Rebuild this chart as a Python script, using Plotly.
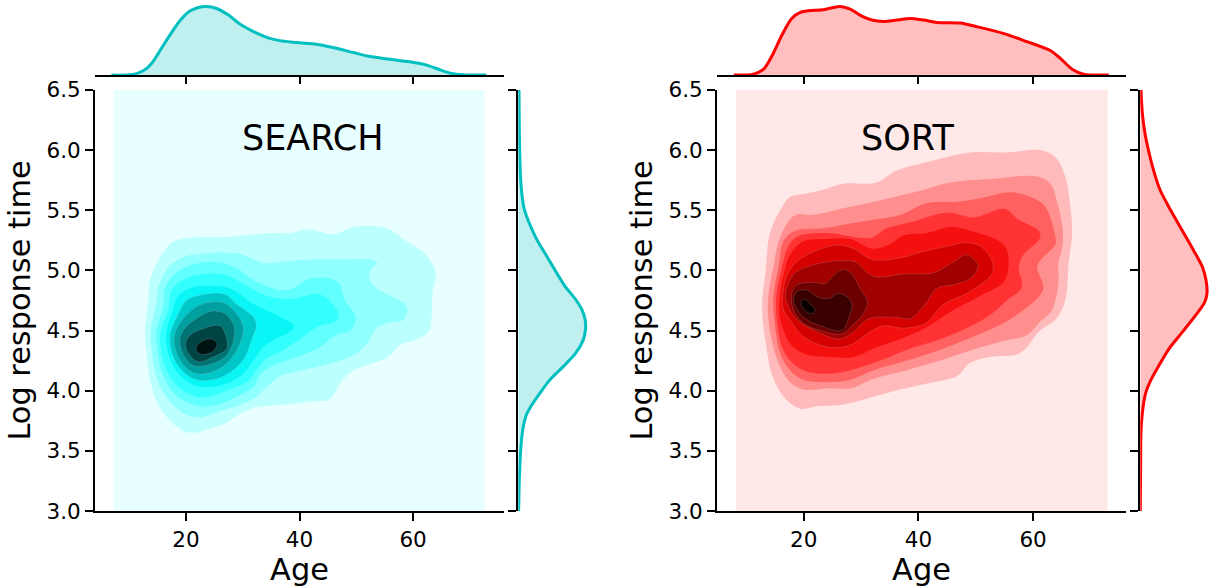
import plotly.graph_objects as go

W, H = 1211, 588

tick_ages = [20, 40, 60]
tick_logs = [3.0, 3.5, 4.0, 4.5, 5.0, 5.5, 6.0, 6.5]

search_colors = ["#bbffff", "#90ffff", "#62ffff", "#33ffff", "#0af5f5", "#00c8c8", "#00a0a0", "#007575", "#004545", "#001414"]
sort_colors = ["#ffbbbb", "#ff8f8f", "#ff6060", "#ff3333", "#f51010", "#d40000", "#a00000", "#6c0000", "#3a0000", "#0a0000"]
search_bg = "#e8ffff"
sort_bg = "#ffe8e8"

bg_search_age = [7.3, 72.6, 72.6, 7.3, 7.3]
bg_sort_age = [8.2, 73.0, 73.0, 8.2, 8.2]
bg_log = [3.0, 3.0, 6.5, 6.5, 3.0]

# SEARCH density bands (Age, Log response time), outermost first
search_age_1 = [12.8,13.4,13.7,15.7,17.8,20.7,27.7,34.8,38.3,40.7,43.0,45.9,49.5,52.4,55.9,58.9,61.8,63.5,64.0,63.4,63.3,62.7,60.3,57.7,55.6,53.0,49.5,47.1,45.4,41.8,38.3,33.6,30.7,28.3,26.6,23.1,20.7,18.7,16.3,14.5,13.5,13.1]
search_log_1 = [4.49,4.75,4.92,5.13,5.24,5.27,5.28,5.31,5.31,5.34,5.33,5.30,5.36,5.37,5.34,5.24,5.15,5.04,4.95,4.81,4.64,4.49,4.42,4.38,4.28,4.23,4.17,4.06,3.93,3.91,3.89,3.87,3.84,3.77,3.72,3.67,3.65,3.69,3.80,3.95,4.14,4.31]
search_age_2 = [13.8,14.8,15.1,16.9,19.5,23.1,26.6,30.1,32.4,34.8,38.3,43.0,47.7,52.4,53.7,52.7,52.3,53.6,55.9,58.6,59.0,58.3,55.3,53.6,51.8,50.0,47.1,44.2,39.5,36.5,34.2,32.4,28.9,26.0,22.5,20.1,17.8,15.7,14.5,14.0]
search_log_2 = [4.49,4.72,4.85,5.02,5.11,5.14,5.15,5.13,5.08,5.06,5.08,5.09,5.09,5.09,5.06,5.02,4.93,4.85,4.79,4.72,4.67,4.59,4.56,4.52,4.39,4.31,4.25,4.21,4.16,4.12,4.03,3.95,3.87,3.83,3.78,3.80,3.88,4.01,4.17,4.34]
search_age_3 = [14.8,16.0,16.3,17.8,20.7,25.4,28.9,31.9,35.4,38.3,41.2,44.2,46.8,48.0,49.9,48.9,46.2,43.6,40.7,37.7,35.1,33.0,31.9,28.9,26.0,22.5,19.5,17.2,15.7,15.0]
search_log_3 = [4.49,4.70,4.85,4.96,5.04,5.07,5.02,4.92,4.85,4.84,4.92,4.94,4.90,4.75,4.61,4.50,4.46,4.36,4.30,4.25,4.20,4.13,4.03,3.95,3.89,3.87,3.92,4.02,4.17,4.34]
search_age_4 = [15.5,16.9,17.5,19.8,23.1,27.2,30.7,34.8,38.3,41.2,43.6,45.4,46.9,46.2,43.6,41.8,39.5,36.5,34.2,32.4,30.7,27.7,24.8,21.9,18.9,16.9,15.7]
search_log_4 = [4.48,4.67,4.84,4.93,4.97,4.96,4.87,4.78,4.76,4.79,4.80,4.74,4.63,4.57,4.54,4.49,4.41,4.32,4.27,4.17,4.07,4.01,3.96,3.95,4.02,4.14,4.31]
search_age_5 = [16.5,17.5,18.7,21.3,25.4,28.3,31.9,36.0,39.0,38.3,35.4,33.6,31.9,30.1,27.7,24.2,21.3,18.7,17.2,16.6]
search_log_5 = [4.48,4.64,4.79,4.86,4.87,4.84,4.72,4.63,4.54,4.49,4.42,4.36,4.25,4.14,4.07,4.03,4.05,4.14,4.27,4.38]
search_age_6 = [17.2,18.7,20.1,23.1,26.9,28.9,31.9,32.4,31.6,30.4,28.3,25.4,21.9,19.5,17.8]
search_log_6 = [4.45,4.64,4.75,4.80,4.80,4.72,4.61,4.54,4.43,4.28,4.17,4.10,4.09,4.16,4.28]
search_age_7 = [17.9,18.9,21.3,23.6,26.6,28.9,30.1,29.5,27.7,25.4,21.9,19.8,18.5]
search_log_7 = [4.43,4.56,4.68,4.73,4.73,4.64,4.53,4.39,4.25,4.17,4.14,4.20,4.30]
search_age_8 = [18.9,19.8,21.9,24.5,26.9,28.5,28.2,26.9,23.6,21.3,19.8]
search_log_8 = [4.42,4.52,4.60,4.66,4.64,4.53,4.39,4.28,4.21,4.21,4.28]
search_age_9 = [19.9,20.7,23.3,26.0,27.0,27.2,24.8,22.2,20.6]
search_log_9 = [4.38,4.46,4.52,4.54,4.46,4.35,4.28,4.24,4.30]
search_age_10 = [21.8,22.8,24.5,25.5,24.8,23.1,22.0]
search_log_10 = [4.36,4.41,4.43,4.39,4.33,4.30,4.32]

# SORT density bands, outermost first
sort_age_1 = [12.8,13.3,14.1,15.9,17.6,20.5,23.4,26.9,32.7,36.2,41.5,49.0,55.4,61.2,63.9,65.6,66.5,66.8,66.2,65.6,63.9,61.2,58.9,57.2,52.5,49.0,46.7,41.5,36.8,32.2,26.3,22.3,19.4,16.5,14.4,13.4,12.8]
sort_log_1 = [4.78,4.97,5.31,5.50,5.61,5.64,5.67,5.72,5.73,5.83,5.90,5.98,5.98,6.00,5.94,5.78,5.53,5.31,5.06,4.75,4.59,4.50,4.36,4.30,4.28,4.23,4.12,4.06,4.01,3.95,3.88,3.87,3.85,3.95,4.14,4.39,4.61]
sort_age_2 = [13.8,14.7,15.9,18.5,21.4,26.3,32.2,40.9,45.5,52.5,60.7,63.0,64.4,65.2,65.0,64.4,64.4,63.3,61.2,58.9,55.4,50.8,43.8,38.0,32.2,28.1,24.6,19.9,17.6,15.6,14.4,13.8]
sort_log_2 = [4.78,5.03,5.28,5.46,5.46,5.51,5.57,5.67,5.73,5.76,5.78,5.72,5.53,5.31,5.17,5.06,4.89,4.67,4.57,4.46,4.42,4.36,4.25,4.17,4.10,4.02,4.02,4.01,4.07,4.23,4.42,4.61]
sort_age_3 = [14.7,15.6,16.5,18.5,23.4,26.9,32.2,36.8,41.5,46.7,50.8,56.0,60.1,62.1,63.9,63.9,61.2,60.7,61.8,61.0,58.3,54.8,49.6,43.8,38.0,32.2,28.1,24.0,19.9,17.6,15.9,15.0]
sort_log_3 = [4.78,5.03,5.25,5.33,5.35,5.38,5.42,5.46,5.56,5.57,5.60,5.65,5.60,5.53,5.28,5.22,5.08,5.03,4.86,4.78,4.67,4.56,4.45,4.34,4.25,4.17,4.09,4.07,4.09,4.17,4.31,4.53]
sort_age_4 = [15.2,16.2,17.3,18.8,24.0,31.6,34.5,38.6,45.0,49.6,55.1,57.2,61.0,61.2,58.3,57.5,58.0,55.4,51.9,45.0,38.0,33.3,28.1,24.0,19.9,17.6,16.2,15.3]
sort_log_4 = [4.78,5.03,5.20,5.28,5.31,5.27,5.35,5.40,5.48,5.44,5.51,5.43,5.33,5.27,5.13,5.03,4.86,4.75,4.61,4.45,4.34,4.25,4.17,4.14,4.17,4.25,4.36,4.59]
sort_age_5 = [15.8,16.5,17.6,19.9,24.0,28.1,31.9,35.1,37.4,41.5,45.5,49.0,55.1,55.1,50.8,46.1,41.5,38.0,32.7,28.7,24.6,19.9,17.6,16.5,15.8]
sort_log_5 = [4.78,4.97,5.13,5.24,5.26,5.26,5.18,5.22,5.29,5.31,5.36,5.33,5.20,4.92,4.79,4.67,4.53,4.45,4.36,4.28,4.28,4.31,4.39,4.50,4.61]
sort_age_6 = [16.3,17.0,18.5,21.1,25.8,28.7,31.9,37.4,40.3,45.0,48.4,50.8,52.8,52.8,48.4,44.4,41.2,37.4,33.9,31.9,28.1,24.6,19.9,17.6,16.5]
sort_log_6 = [4.78,4.95,5.06,5.14,5.21,5.18,5.09,5.11,5.15,5.20,5.23,5.20,5.08,4.97,4.81,4.72,4.56,4.52,4.54,4.50,4.38,4.36,4.45,4.59,4.67]
sort_age_7 = [16.8,17.3,18.8,22.9,26.3,29.0,32.2,37.4,42.6,46.1,48.4,50.4,49.0,46.1,43.2,41.2,38.6,36.2,32.7,31.0,28.7,26.3,22.3,18.8,17.3]
sort_log_7 = [4.78,4.89,4.99,5.06,5.08,5.07,4.95,4.97,4.98,5.07,5.13,5.04,4.93,4.88,4.85,4.72,4.60,4.61,4.61,4.59,4.49,4.43,4.49,4.59,4.70]
sort_age_8 = [17.9,18.8,21.7,23.7,25.2,26.9,28.4,29.8,31.1,30.4,28.4,26.6,22.9,19.9,18.2]
sort_log_8 = [4.81,4.88,4.90,4.89,4.96,5.01,4.97,4.85,4.74,4.64,4.54,4.47,4.50,4.56,4.67]
sort_age_9 = [18.2,18.7,20.2,22.9,24.6,26.0,27.5,28.4,27.8,26.6,22.9,19.9,18.8]
sort_log_9 = [4.75,4.82,4.84,4.77,4.77,4.81,4.78,4.72,4.60,4.50,4.54,4.61,4.68]
sort_age_10 = [19.5,20.2,21.1,22.0,21.4,20.4,19.7]
sort_log_10 = [4.74,4.76,4.72,4.67,4.64,4.66,4.70]

# Marginal densities (relative to each peak)
search_top_age = [6.9,10.7,12.5,14.0,15.7,17.5,19.2,20.7,22.2,23.6,25.4,27.5,29.5,31.9,34.2,36.5,39.5,43.0,45.9,49.5,52.4,55.9,59.4,62.4,64.7,66.8,68.8,72.9]
search_top_density = [.005,.014,.067,.178,.394,.625,.817,.933,.986,1.0,.971,.875,.745,.635,.553,.505,.476,.452,.404,.332,.274,.236,.197,.149,.082,.029,.01,.005]
sort_top_age = [7.8,11.2,13.0,14.4,16.2,17.9,19.4,20.8,23.4,26.3,28.1,29.8,31.9,33.9,36.2,38.6,40.9,43.2,47.3,50.2,54.8,58.9,63.0,64.7,66.8,68.8,73.2]
sort_top_density = [.005,.019,.091,.274,.587,.827,.913,.938,.952,1.0,.962,.875,.803,.784,.803,.827,.803,.769,.76,.707,.611,.490,.361,.25,.091,.019,.005]
search_side_log = [6.50,6.17,5.81,5.65,5.52,5.40,5.26,5.12,4.98,4.87,4.76,4.67,4.59,4.51,4.42,4.31,4.20,4.09,3.98,3.87,3.79,3.70,3.54,3.26,3.00]
search_side_density = [.01,.015,.03,.05,.084,.158,.272,.421,.569,.693,.851,.95,.995,1.0,.965,.851,.668,.47,.322,.188,.114,.074,.04,.015,.005]
sort_side_log = [6.50,6.31,6.14,5.98,5.81,5.67,5.51,5.34,5.17,5.03,4.92,4.81,4.73,4.62,4.48,4.34,4.20,4.09,3.98,3.81,3.65,3.40,3.00]
sort_side_density = [.01,.03,.07,.13,.21,.295,.445,.62,.795,.93,.985,1.0,.96,.82,.62,.42,.27,.16,.08,.03,.01,.005,0]

search_bands = [(search_age_1, search_log_1), (search_age_2, search_log_2), (search_age_3, search_log_3),
                (search_age_4, search_log_4), (search_age_5, search_log_5), (search_age_6, search_log_6),
                (search_age_7, search_log_7), (search_age_8, search_log_8), (search_age_9, search_log_9),
                (search_age_10, search_log_10)]
sort_bands = [(sort_age_1, sort_log_1), (sort_age_2, sort_log_2), (sort_age_3, sort_log_3),
              (sort_age_4, sort_log_4), (sort_age_5, sort_log_5), (sort_age_6, sort_log_6),
              (sort_age_7, sort_log_7), (sort_age_8, sort_log_8), (sort_age_9, sort_log_9),
              (sort_age_10, sort_log_10)]

fig = go.Figure()


def add_panel(bands, colors, bg, bg_age, top_age, top_d, side_log, side_d, line, fill, xa, ya, xt, yt, xs, ys):
    fig.add_trace(go.Scatter(x=bg_age, y=bg_log, mode="lines", fill="toself", fillcolor=bg,
                             line=dict(width=0), xaxis=xa, yaxis=ya, hoverinfo="skip", showlegend=False))
    for i, ((ax, ly), c) in enumerate(zip(bands, colors)):
        dark = i >= 5
        fig.add_trace(go.Scatter(x=ax + ax[:1], y=ly + ly[:1], mode="lines", fill="toself", fillcolor=c,
                                 line=dict(shape="spline", smoothing=1.0,
                                           width=0.5 if dark else 0,
                                           color="rgba(190,190,190,0.4)" if dark else c),
                                 xaxis=xa, yaxis=ya, hoverinfo="skip", showlegend=False))
    fig.add_trace(go.Scatter(x=top_age, y=top_d, mode="lines", fill="tozeroy", fillcolor=fill,
                             line=dict(color=line, width=3, shape="spline", smoothing=0.8),
                             xaxis=xt, yaxis=yt, hoverinfo="skip", showlegend=False))
    fig.add_trace(go.Scatter(x=side_d, y=side_log, mode="lines", fill="tozerox", fillcolor=fill,
                             line=dict(color=line, width=3, shape="spline", smoothing=0.8),
                             xaxis=xs, yaxis=ys, hoverinfo="skip", showlegend=False))


add_panel(search_bands, search_colors, search_bg, bg_search_age, search_top_age, search_top_density,
          search_side_log, search_side_density, "#00bfbf", "#bfefef", "x", "y", "x2", "y2", "x3", "y3")
add_panel(sort_bands, sort_colors, sort_bg, bg_sort_age, sort_top_age, sort_top_density,
          sort_side_log, sort_side_density, "#ff0000", "#ffbfbf", "x4", "y4", "x5", "y5", "x6", "y6")

FONT = "DejaVu Sans"
ML, MR, MT, MB = 95, 0, 1, 76.5
PW, PH = W - ML - MR, H - MT - MB
px_x = lambda a, b: [(a - ML) / PW, (b - ML) / PW]
px_y = lambda top, bottom: [(H - MB - bottom) / PH, (H - MB - top) / PH]
main_y = px_y(90, 511.5)
DENS_MAX = 1.055
top_y = px_y(75.5 - 69 * DENS_MAX, 75.5)


def main_axes(x_dom, x_range):
    xa = dict(domain=x_dom, range=x_range, tickvals=tick_ages, ticks="outside", ticklen=8, tickwidth=1.7,
              showline=True, linecolor="black", linewidth=2, showgrid=False, zeroline=False, tickcolor="black",
              automargin=False, tickfont=dict(size=21.5, family=FONT, color="black"),
              title=dict(text="Age", font=dict(size=30.4, family=FONT, color="black"), standoff=6))
    ya = dict(domain=main_y, range=[3.0, 6.5], tickvals=tick_logs, tickformat=".1f", ticks="outside", ticklen=8,
              tickwidth=1.7, showline=True, linecolor="black", linewidth=2, showgrid=False, zeroline=False,
              automargin=False, tickcolor="black", tickfont=dict(size=21.5, family=FONT, color="black"),
              title=dict(text="Log response time", font=dict(size=30.4, family=FONT, color="black"), standoff=7))
    return xa, ya


def top_axes(x_dom, x_range):
    xa = dict(domain=x_dom, range=x_range, tickvals=tick_ages, ticks="outside", ticklen=7, tickwidth=1.7,
              showticklabels=False, showline=True, linecolor="black", linewidth=2, showgrid=False,
              zeroline=False, tickcolor="black")
    ya = dict(domain=top_y, range=[0, DENS_MAX], visible=False, showgrid=False, zeroline=False)
    return xa, ya


def side_axes(x_dom):
    xa = dict(domain=x_dom, range=[0, DENS_MAX], visible=False, showgrid=False, zeroline=False)
    ya = dict(domain=main_y, range=[3.0, 6.5], tickvals=tick_logs, ticks="outside", ticklen=8, tickwidth=1.7,
              showticklabels=False, showline=True, linecolor="black", linewidth=2, showgrid=False,
              zeroline=False, tickcolor="black")
    return xa, ya


lx, ly = main_axes(px_x(95, 504), [4.0, 76.0])
rx, ry = main_axes(px_x(717, 1126), [4.87, 76.2])
ltx, lty = top_axes(px_x(95, 504), [4.0, 76.0])
rtx, rty = top_axes(px_x(717, 1126), [4.87, 76.2])
lsx, lsy = side_axes(px_x(518.3, 518.3 + 67.2 * DENS_MAX))
rsx, rsy = side_axes(px_x(1140.3, 1140.3 + 66.7 * DENS_MAX))

ly.update(anchor="x"); lx.update(anchor="y")
rx.update(anchor="y4"); ry.update(anchor="x4")
ltx.update(anchor="y2"); lty.update(anchor="x2")
lsx.update(anchor="y3"); lsy.update(anchor="x3")
rtx.update(anchor="y5"); rty.update(anchor="x5")
rsx.update(anchor="y6"); rsy.update(anchor="x6")

fig.update_layout(
    width=W, height=H, autosize=False, margin=dict(l=ML, r=MR, t=MT, b=MB, pad=0),
    paper_bgcolor="white", plot_bgcolor="white", showlegend=False,
    xaxis=lx, yaxis=ly, xaxis2=ltx, yaxis2=lty, xaxis3=lsx, yaxis3=lsy,
    xaxis4=rx, yaxis4=ry, xaxis5=rtx, yaxis5=rty, xaxis6=rsx, yaxis6=rsy,
    annotations=[
        dict(text="SEARCH", x=42.4, y=6.10, xref="x", yref="y", showarrow=False,
             font=dict(size=35, family=FONT, color="black")),
        dict(text="SORT", x=38.2, y=6.10, xref="x4", yref="y4", showarrow=False,
             font=dict(size=35, family=FONT, color="black")),
    ],
)

fig.write_html("out.html", config=dict(displayModeBar=False),
               post_script="document.body.style.margin='0';document.documentElement.style.overflow='hidden';")
